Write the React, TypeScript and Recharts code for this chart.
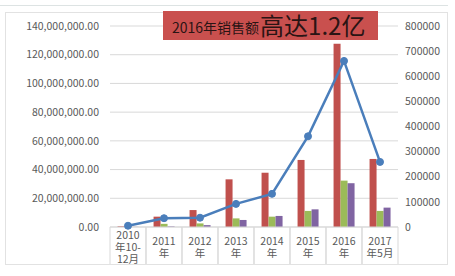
import React from 'react'
import {
  ComposedChart,
  Bar,
  Line,
  XAxis,
  YAxis,
  CartesianGrid,
} from 'recharts'

const categories = ['2010\n年10-\n12月', '2011\n年', '2012\n年', '2013\n年', '2014\n年', '2015\n年', '2016\n年', '2017\n年5月']
const salesRed = [500000, 7200000, 11800000, 33200000, 37800000, 46700000, 127600000, 47400000]
const salesGreen = [200000, 2200000, 2500000, 6000000, 7200000, 11200000, 32300000, 11200000]
const salesPurple = [100000, 400000, 1300000, 4900000, 7700000, 12300000, 30500000, 13500000]
const lineValues = [5000, 35000, 37000, 92000, 132000, 361000, 661000, 259000]
const leftTicks = [0, 20000000, 40000000, 60000000, 80000000, 100000000, 120000000, 140000000]
const rightTicks = [0, 100000, 200000, 300000, 400000, 500000, 600000, 700000, 800000]

const data = categories.map((name, i) => ({
  name,
  red: salesRed[i],
  green: salesGreen[i],
  purple: salesPurple[i],
  line: lineValues[i],
}))

const FONT = '"Noto Sans CJK SC", "Noto Sans", sans-serif'
const GRID = '#d9d9d9'
const TEXT = '#595959'

const formatLeft = (v: number) =>
  v.toLocaleString('en-US', { minimumFractionDigits: 2, maximumFractionDigits: 2 })

function CategoryTick(props: any) {
  const { x, y, payload } = props
  const half = 18
  const lines = String(payload.value).split('\n')
  const mid = y + 19
  return (
    <g>
      <line x1={x - half} y1={y} x2={x - half} y2={y + 37} stroke={GRID} />
      <line x1={x + half} y1={y} x2={x + half} y2={y + 37} stroke={GRID} />
      <text
        x={x}
        textAnchor="middle"
        fill={TEXT}
        fontSize={10.5}
        fontFamily={FONT}
      >
        {lines.map((l, i) => (
          <tspan
            key={i}
            x={x}
            y={mid - (lines.length - 1) * 6 + i * 12}
            dominantBaseline="central"
          >
            {l}
          </tspan>
        ))}
      </text>
    </g>
  )
}

export default function App() {
  return (
    <div style={{ position: 'relative', width: 455, height: 276, background: '#fff' }}>
      <style>{'body{margin:0}'}</style>
      <div style={{ position: 'absolute', left: 0, top: 5, width: 448, height: 1, background: '#dde3e3' }} />
      <div
        style={{
          position: 'absolute',
          left: 5,
          top: 12,
          width: 441,
          height: 251,
          border: '1px solid #e2e2e2',
        }}
      />
      <ComposedChart
        width={455}
        height={276}
        data={data}
        margin={{ top: 26, right: 0, bottom: 9, left: 0 }}
        barCategoryGap="21%"
        barGap={0}
        style={{ position: 'absolute', left: 0, top: 0 }}
      >
        <CartesianGrid yAxisId="left" vertical={false} stroke={GRID} />
        <XAxis
          dataKey="name"
          height={40}
          interval={0}
          tickLine={false}
          tickSize={0}
          tickMargin={0}
          axisLine={{ stroke: GRID }}
          tick={<CategoryTick />}
        />
        <YAxis
          yAxisId="left"
          width={110}
          domain={[0, 140000000]}
          ticks={leftTicks}
          tickFormatter={formatLeft}
          axisLine={false}
          tickLine={false}
          tickSize={0}
          tickMargin={11}
          tick={{ fill: TEXT, fontSize: 10.5, fontFamily: FONT }}
        />
        <YAxis
          yAxisId="right"
          orientation="right"
          width={57}
          domain={[0, 800000]}
          ticks={rightTicks}
          axisLine={false}
          tickLine={false}
          tickSize={0}
          tickMargin={7}
          tick={{ fill: TEXT, fontSize: 10.5, fontFamily: FONT, textAnchor: 'start' }}
        />
        <Bar yAxisId="left" dataKey="red" fill="#c0504d" isAnimationActive={false} />
        <Bar yAxisId="left" dataKey="green" fill="#9bbb59" isAnimationActive={false} />
        <Bar yAxisId="left" dataKey="purple" fill="#8064a2" isAnimationActive={false} />
        <Line
          yAxisId="right"
          dataKey="line"
          stroke="#4a7ebb"
          strokeWidth={2.5}
          dot={{ r: 3.5, fill: '#4a7ebb', stroke: '#4a7ebb', strokeWidth: 1 }}
          isAnimationActive={false}
        />
      </ComposedChart>
      <div
        style={{
          position: 'absolute',
          left: 163,
          top: 11,
          width: 215,
          height: 29,
          background: '#c9504e',
          display: 'flex',
          alignItems: 'flex-end',
          fontFamily: FONT,
          color: '#2a1414',
          whiteSpace: 'nowrap',
          lineHeight: 1,
        }}
      >
        <span style={{ fontSize: 14, marginLeft: 9, marginBottom: 6 }}>2016年销售额</span>
        <span style={{ fontSize: 24, marginLeft: 1, marginBottom: 3 }}>高达1.2亿</span>
      </div>
    </div>
  )
}
